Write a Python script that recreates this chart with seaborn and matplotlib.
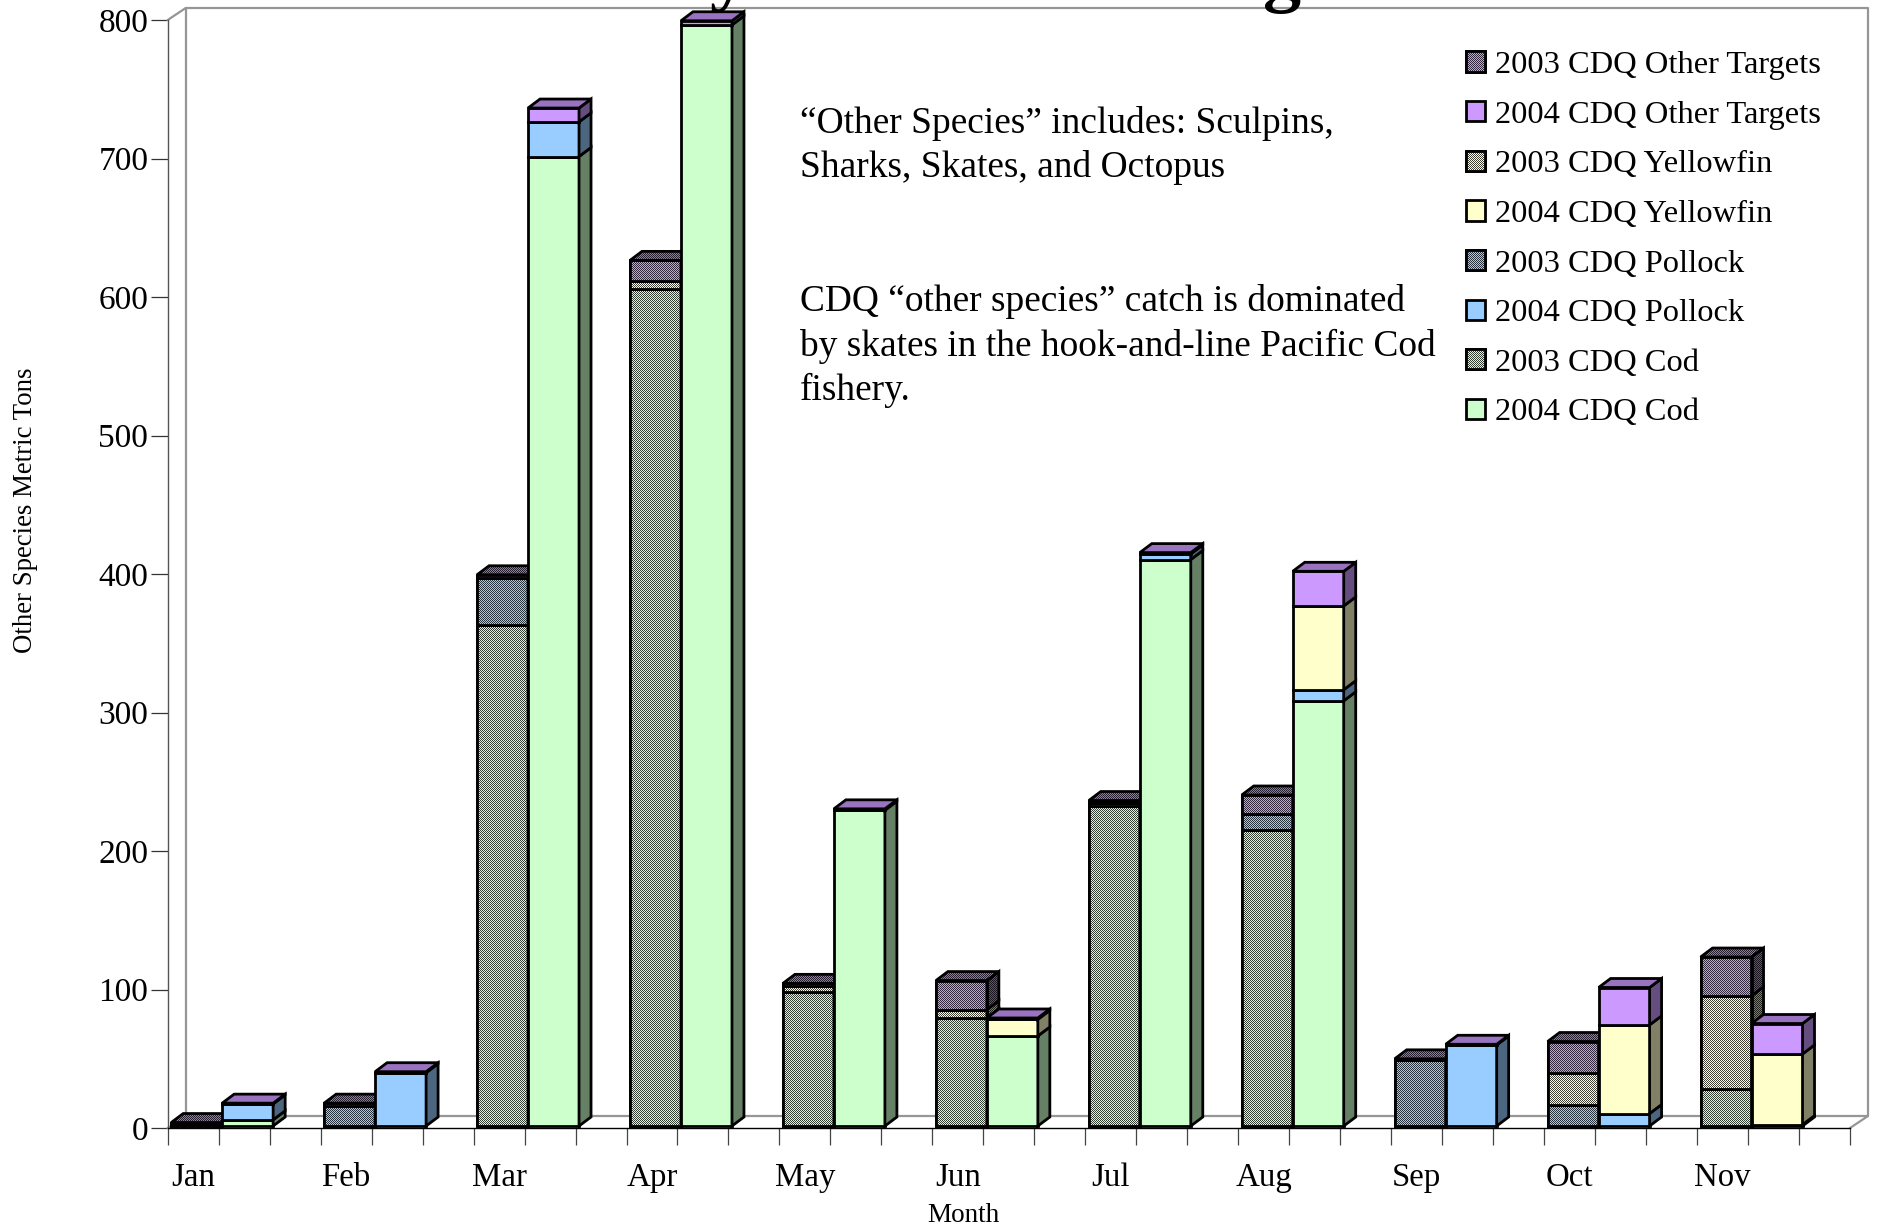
# CDQ other species catch by month, 2003 vs 2004, in the old 3D stacked bar look
import numpy as np
import matplotlib
matplotlib.use("Agg")
import matplotlib.pyplot as plt
from matplotlib.lines import Line2D
from matplotlib.patches import Patch, Polygon
from matplotlib.transforms import Affine2D, IdentityTransform
import seaborn as sns

months = ["Jan", "Feb", "Mar", "Apr", "May", "Jun", "Jul", "Aug", "Sep", "Oct", "Nov"]

# metric tons per month
cod_2003 = [0, 0, 362, 604, 97, 78, 231, 213.5, 0, 0, 27]
pollock_2003 = [1, 14.5, 34, 0, 0, 0, 2.5, 11.5, 48, 15, 0]
yellowfin_2003 = [0, 0, 0, 6, 4, 6, 0, 0, 0, 23.5, 67]
other_2003 = [1.5, 2, 2, 15, 2, 21, 1.5, 14, 0.5, 22.5, 28]

cod_2004 = [4.5, 0, 700, 795, 228, 65, 409, 307, 0, 0, 1]
pollock_2004 = [11.5, 38.5, 25, 0, 0, 0, 4, 8, 58.5, 9, 0]
yellowfin_2004 = [0, 0, 0, 0, 0, 12, 0, 60.5, 0, 64, 51]
other_2004 = [0.5, 0.7, 10, 3, 1, 1, 1, 25, 0.5, 27, 22]

species = ["Cod", "Pollock", "Yellowfin", "Other Targets"]
species_colors = ["#CCFFCC", "#99CCFF", "#FFFFCC", "#CC99FF"]
series_2003 = [cod_2003, pollock_2003, yellowfin_2003, other_2003]
series_2004 = [cod_2004, pollock_2004, yellowfin_2004, other_2004]

note_lines = ["\u201cOther Species\u201d includes: Sculpins,", "Sharks, Skates, and Octopus"]
note_lines2 = ["CDQ \u201cother species\u201d catch is dominated",
               "by skates in the hook-and-line Pacific Cod", "fishery."]

W, H = 1877, 1226
DEPTH_X, DEPTH_Y = 12, 9  # side of a bar, pixels
WALL_X, WALL_Y = 18, 12  # back wall offset, pixels
SHIFT_X, SHIFT_Y = 3.5, 2  # bars sit a little behind the front axis
EDGE = 2.0
WALL = "#969696"

sns.set_theme(style="white")
plt.rcParams["font.family"] = ["Liberation Serif", "DejaVu Serif"]
plt.rcParams["text.color"] = "black"
plt.rcParams["xtick.labelcolor"] = "black"
plt.rcParams["ytick.labelcolor"] = "black"

fig = plt.figure(figsize=(W / 100, H / 100), dpi=100)
# axis runs x 167.7..1850, y 1128..20 in image pixels
ax = fig.add_axes([167.7 / W, 1 - 1128 / H, (1850 - 167.7) / W, (1128 - 20) / H])
ax.set_autoscale_on(False)


def shade(color, k):
    rgb = np.array(matplotlib.colors.to_rgb(color))
    return tuple(rgb * k)


def mix(a, b):
    return tuple((np.array(a) + np.array(b)) / 2)


def add_dither(verts, light, dark, z):
    # 2003 series are a 1 pixel checker of a light and a dark colour
    xs, ys = zip(*verts)
    x0, x1 = int(np.floor(min(xs))), int(np.ceil(max(xs)))
    y0, y1 = int(np.floor(min(ys))), int(np.ceil(max(ys)))
    if x1 <= x0 or y1 <= y0:
        return
    yy, xx = np.mgrid[y0:y1, x0:x1]
    arr = np.where(((xx + yy) % 2 == 0)[..., None], light, dark)
    im = ax.imshow((arr * 255).astype(np.uint8), extent=(x0, x1, y0, y1), origin="lower",
                   transform=IdentityTransform(), aspect="auto",
                   interpolation="nearest", zorder=z)
    clip = Polygon(verts, closed=True, transform=IdentityTransform())
    im.set_clip_box(None)
    im.set_clip_path(clip)


def add_face(verts, light, dark, z, dithered):
    if dithered:
        add_dither(verts, light, dark, z)
        face = "none"
    else:
        face = light
    ax.add_patch(Polygon(verts, closed=True, facecolor=face, edgecolor="black",
                         linewidth=EDGE, transform=IdentityTransform(), zorder=z + 0.01,
                         clip_on=False, joinstyle="miter"))


order = list(range(len(months) * 3))
shift = Affine2D().translate(SHIFT_X, SHIFT_Y)


def draw_year(series, first_slot, dithered):
    slots = [3 * i + first_slot for i in range(len(months))]
    bottom = np.zeros(len(months))
    for level, vals in enumerate(series):
        vals = np.array(vals, dtype=float)
        n_before = len(ax.patches)
        sns.barplot(x=slots, y=vals, order=order, bottom=bottom, width=1, gap=0,
                    color=species_colors[level], saturation=1, errorbar=None,
                    edgecolor="black", linewidth=EDGE, ax=ax)
        bars = ax.patches[n_before:]
        for i, bar in enumerate(bars):
            height = vals[i]
            if height == 0:
                bar.set_visible(False)
                continue
            z = 3 + slots[i] * 0.1 + level * 0.01
            bar.set_transform(ax.transData + shift)
            bar.set_zorder(z)
            bar.set_clip_on(False)
            (x0, y0), (x1, y1) = (ax.transData + shift).transform(
                [(bar.get_x(), bar.get_y()), (bar.get_x() + bar.get_width(), bar.get_y() + height)])
            base = species_colors[level]
            if dithered:
                bar.set_facecolor(mix(shade(base, 1), shade(base, 0.25)))
                add_face([(x0, y0), (x1, y0), (x1, y1), (x0, y1)],
                         shade(base, 1), shade(base, 0.25), z + 0.001, True)
            # right hand side of this segment
            add_face([(x1, y0), (x1 + DEPTH_X, y0 + DEPTH_Y),
                      (x1 + DEPTH_X, y1 + DEPTH_Y), (x1, y1)],
                     shade(base, 0.5), shade(base, 0.125), z + 0.002, dithered)
            # top of the stack is always the Other Targets purple
            if level == len(series) - 1:
                add_face([(x0, y1), (x1, y1), (x1 + DEPTH_X, y1 + DEPTH_Y),
                          (x0 + DEPTH_X, y1 + DEPTH_Y)],
                         shade(base, 0.75), shade(base, 0.19), z + 0.003, dithered)
        bottom = bottom + vals


ax.set_xlim(-0.5, len(order) - 0.5)
ax.set_ylim(0, 800)
draw_year(series_2003, 0, True)
draw_year(series_2004, 1, False)
ax.set_xlim(-0.5, len(order) - 0.5)
ax.set_ylim(0, 800)

# axes
ax.set_facecolor("none")
ax.patch.set_visible(False)
sns.despine(ax=ax, top=True, right=True)
ax.spines["left"].set_color("#555555")
ax.spines["bottom"].set_color("black")
ax.spines["left"].set_linewidth(1)
ax.spines["bottom"].set_linewidth(1)
ax.set_yticks(np.arange(0, 801, 100))
ax.tick_params(axis="y", length=12, width=0.9, color="#333333", pad=2, labelsize=24, left=True)
ax.set_xticks(np.arange(-0.5, len(order), 1))
ax.set_xticklabels([])
ax.set_xticks(np.arange(0, len(order), 3), labels=months, minor=True)
ax.tick_params(axis="x", which="major", length=12, width=0.9, color="#444444", bottom=True)
ax.tick_params(axis="x", which="minor", length=0, pad=25, labelsize=23.7)
ax.set_xlabel("")
ax.set_ylabel("")


# back wall and floor, in image pixels
def px(x, y):
    return x, H - y


wall = [[(167.7, 1128), (167.7 + WALL_X, 1128 - WALL_Y), (1850 + WALL_X, 1128 - WALL_Y),
         (1850, 1128)],
        [(167.7 + WALL_X, 1128 - WALL_Y), (167.7 + WALL_X, 20 - WALL_Y),
         (1850 + WALL_X, 20 - WALL_Y), (1850 + WALL_X, 1128 - WALL_Y)],
        [(167.7, 20), (167.7 + WALL_X, 20 - WALL_Y)]]
for pts in wall:
    xs, ys = zip(*[px(*p) for p in pts])
    ax.add_line(Line2D(xs, ys, color=WALL, lw=1.6, transform=IdentityTransform(),
                       zorder=1, clip_on=False))

# legend, top of the stack first
handles, labels = [], []
for level in range(3, -1, -1):
    base = species_colors[level]
    handles.append(Patch(facecolor=mix(shade(base, 1), shade(base, 0.25)), edgecolor="black", linewidth=EDGE))
    labels.append("2003 CDQ " + species[level])
    handles.append(Patch(facecolor=base, edgecolor="black", linewidth=EDGE))
    labels.append("2004 CDQ " + species[level])
leg = ax.legend(handles, labels, loc="upper left", frameon=False, fontsize=23.4,
                bbox_to_anchor=(1466 / W, 1 - 51 / H), bbox_transform=fig.transFigure,
                handlelength=0.58, handleheight=0.58, handletextpad=0.31,
                labelspacing=0.635, borderpad=0, borderaxespad=0)
leg.set_zorder(20)

# checker on the 2003 legend squares
fig.canvas.draw()
for k in range(0, len(handles), 2):
    base = species_colors[3 - k // 2]
    box = leg.get_patches()[k].get_window_extent()
    add_face([(box.x0, box.y0), (box.x1, box.y0), (box.x1, box.y1), (box.x0, box.y1)],
             shade(base, 1), shade(base, 0.25), 21, True)

# notes inside the plot
for y, line in zip([133, 177], note_lines):
    fig.text(800 / W, 1 - y / H, line, fontsize=26.9, va="baseline", color="black", zorder=30)
for y, line in zip([311, 356, 400], note_lines2):
    fig.text(800 / W, 1 - y / H, line, fontsize=26.9, va="baseline", color="black", zorder=30)

# the title is cut off by the top of the picture, only two descenders are left
fig.text(728 / W, 1 + 3 / H, "y", fontsize=55, fontweight="bold", ha="center", va="baseline", zorder=30)
fig.text(1282 / W, 1 + 2 / H, "g", fontsize=55, fontweight="bold", ha="center", va="baseline", zorder=30)

fig.text(26 / W, 1 - 510 / H, "Other Species Metric Tons", fontsize=19.3, rotation=90,
         ha="center", va="center")
fig.text(963 / W, 1 - 1215 / H, "Month", fontsize=19.5, ha="center", va="center")

fig.savefig("out.png", dpi=100)
